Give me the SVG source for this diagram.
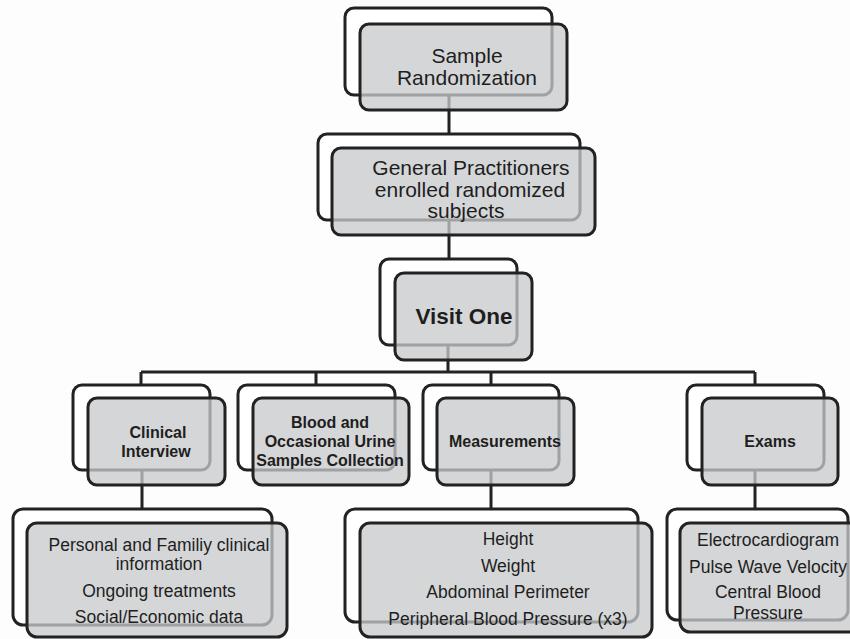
<svg xmlns="http://www.w3.org/2000/svg" width="850" height="639" viewBox="0 0 850 639">
<style>
.bk{fill:#ffffff;stroke:#222;stroke-width:3}
.fr{fill:rgb(200,201,204);fill-opacity:0.76;stroke:#222;stroke-width:3}
.ln{fill:none;stroke:#222;stroke-width:3}
text{font-family:"Liberation Sans",Arial,sans-serif;fill:#1e1e1e;text-anchor:middle}
.t1{font-size:21px}
.t2{font-size:22.5px;font-weight:bold}
.t3{font-size:16px;font-weight:bold}
.t4{font-size:17.5px}
</style>
<rect x="0" y="0" width="850" height="639" fill="#fdfdfd"/>
<g id="connectors">
<path class="ln" d="M449,95 V134 M449,220 V259 M448,345 V372 M141,372 H755 M141,372 V385 M316,372 V385 M491,372 V385 M755,372 V385 M142,470 V509 M491,470 V509 M755,470 V509"/>
</g>
<g id="n-sample">
<rect class="bk" x="345" y="8" width="207" height="87" rx="9"/>
<rect class="fr" x="360" y="24" width="207" height="86" rx="9"/>
<text class="t1" x="467" y="63">Sample</text>
<text class="t1" x="467" y="85">Randomization</text>
</g>
<g id="n-gp">
<rect class="bk" x="318" y="134" width="262" height="86" rx="9"/>
<rect class="fr" x="332" y="148" width="263" height="87" rx="9"/>
<text class="t1" x="471" y="175">General Practitioners</text>
<text class="t1" x="470" y="197">enrolled randomized</text>
<text class="t1" x="466" y="218">subjects</text>
</g>
<g id="n-visit">
<rect class="bk" x="380" y="259" width="137" height="86" rx="9"/>
<rect class="fr" x="395" y="273" width="137" height="87" rx="9"/>
<text class="t2" x="464" y="324">Visit One</text>
</g>
<g id="n-clinical">
<rect class="bk" x="73" y="385" width="137" height="85" rx="9"/>
<rect class="fr" x="88" y="398" width="137" height="87" rx="9"/>
<text class="t3" x="158" y="438">Clinical</text>
<text class="t3" x="156" y="457">Interview</text>
</g>
<g id="n-blood">
<rect class="bk" x="238" y="385" width="157" height="85" rx="9"/>
<rect class="fr" x="253" y="398" width="156" height="87" rx="9"/>
<text class="t3" x="330" y="428">Blood and</text>
<text class="t3" x="330" y="447">Occasional Urine</text>
<text class="t3" x="330" y="466">Samples Collection</text>
</g>
<g id="n-meas">
<rect class="bk" x="423" y="385" width="136" height="85" rx="9"/>
<rect class="fr" x="437" y="398" width="137" height="87" rx="9"/>
<text class="t3" x="505" y="447">Measurements</text>
</g>
<g id="n-exams">
<rect class="bk" x="687" y="385" width="137" height="85" rx="9"/>
<rect class="fr" x="702" y="398" width="136" height="87" rx="9"/>
<text class="t3" x="770" y="447">Exams</text>
</g>
<g id="n-clinical-details">
<rect class="bk" x="13" y="509" width="259" height="116" rx="10"/>
<rect class="fr" x="27" y="523" width="260" height="114" rx="10"/>
<text class="t4" x="159" y="551">Personal and Familiy clinical</text>
<text class="t4" x="159" y="570">information</text>
<text class="t4" x="159" y="597">Ongoing treatments</text>
<text class="t4" x="159" y="623">Social/Economic data</text>
</g>
<g id="n-meas-details">
<rect class="bk" x="345" y="509" width="293" height="113" rx="10"/>
<rect class="fr" x="360" y="523" width="292" height="114" rx="10"/>
<text class="t4" x="508" y="545">Height</text>
<text class="t4" x="508" y="572">Weight</text>
<text class="t4" x="508" y="598">Abdominal Perimeter</text>
<text class="t4" x="508" y="625">Peripheral Blood Pressure (x3)</text>
</g>
<g id="n-exams-details">
<rect class="bk" x="667" y="509" width="181" height="111" rx="10"/>
<rect class="fr" x="680" y="523" width="182" height="109" rx="10"/>
<text class="t4" x="768" y="546">Electrocardiogram</text>
<text class="t4" x="768" y="573">Pulse Wave Velocity</text>
<text class="t4" x="768" y="598">Central Blood</text>
<text class="t4" x="768" y="619">Pressure</text>
</g>
</svg>
